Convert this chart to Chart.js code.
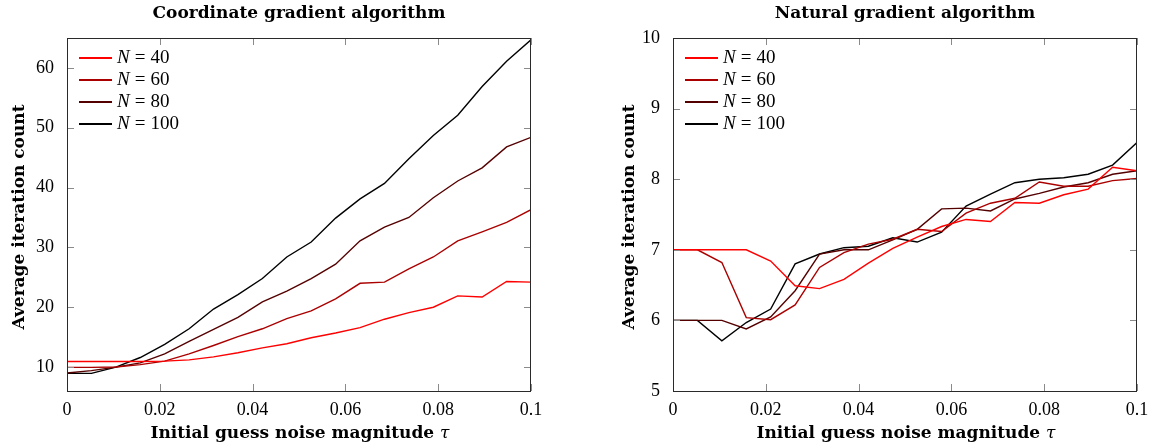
<!DOCTYPE html>
<html>
<head>
<meta charset="utf-8">
<script src="https://cdn.jsdelivr.net/npm/chart.js@4.4.1/dist/chart.umd.min.js"></script>
<style>
  html, body { margin: 0; padding: 0; background: #fff; }
  #wrap { position: relative; width: 1154px; height: 446px; overflow: hidden; }
  canvas { position: absolute; top: 0; }
  .t { position: absolute; white-space: nowrap; color: #000; }
  .title { font-family: "DejaVu Serif", serif; font-weight: bold; font-size: 17px; line-height: 20px; text-align: center; width: 500px; }
  .ylab { font-family: "DejaVu Serif", serif; font-weight: bold; font-size: 17px; line-height: 20px; text-align: center; width: 400px; transform: rotate(-90deg); }
  .leg { position: absolute; font-family: "Liberation Serif", serif; font-size: 19px; line-height: 20px; height: 20px; white-space: nowrap; }
  .leg span.sw { position: absolute; left: 0; top: 10px; width: 33px; height: 2px; }
  .leg span.txt { position: absolute; left: 38px; top: 0; }
  .leg span.eq { margin: 0 5px; }
  i { font-style: italic; }
</style>
</head>
<body>
<div id="wrap">
  <canvas id="c1" width="560" height="446" style="left:0px"></canvas>
  <canvas id="c2" width="534" height="446" style="left:620px"></canvas>

  <div class="t title" style="left:49px; top:2px;">Coordinate gradient algorithm</div>
  <div class="t title" style="left:655px; top:2px;">Natural gradient algorithm</div>

  <div class="t title" style="left:50px; top:422px;">Initial guess noise magnitude <i style="font-weight:normal">τ</i></div>
  <div class="t title" style="left:656px; top:422px;">Initial guess noise magnitude <i style="font-weight:normal">τ</i></div>

  <div class="t ylab" style="left:-182px; top:207px;">Average iteration count</div>
  <div class="t ylab" style="left:428px; top:207px;">Average iteration count</div>

  <div id="leg1"></div>
  <div id="leg2"></div>
</div>
<script>
// ---- data ----
const tau = [0, 0.00526, 0.01053, 0.01579, 0.02105, 0.02632, 0.03158, 0.03684, 0.04211, 0.04737,
             0.05263, 0.05789, 0.06316, 0.06842, 0.07368, 0.07895, 0.08421, 0.08947, 0.09474, 0.1];

const seriesNames = ["40", "60", "80", "100"];
const seriesColors = ["#ff0000", "#aa0000", "#550000", "#000000"];

// Coordinate gradient algorithm
const coordN40  = [10.94, 10.94, 10.94, 10.94, 11.0, 11.2, 11.7, 12.4, 13.2, 13.9, 14.9, 15.7, 16.6, 18.0, 19.1, 20.0, 21.9, 21.7, 24.3, 24.2];
const coordN60  = [9.95, 9.95, 10.0, 10.4, 11.0, 12.2, 13.6, 15.1, 16.4, 18.1, 19.4, 21.4, 24.0, 24.2, 26.4, 28.4, 31.1, 32.6, 34.2, 36.3];
const coordN80  = [9.0, 9.4, 10.0, 10.7, 12.2, 14.3, 16.3, 18.3, 20.9, 22.7, 24.8, 27.2, 31.1, 33.4, 35.0, 38.3, 41.1, 43.3, 46.8, 48.4];
const coordN100 = [8.94, 8.94, 10.0, 11.6, 13.8, 16.4, 19.7, 22.1, 24.8, 28.4, 30.9, 34.9, 38.1, 40.7, 44.8, 48.7, 52.1, 56.9, 61.1, 64.7];

// Natural gradient algorithm
const natN40  = [7.0, 7.0, 7.0, 7.0, 6.84, 6.49, 6.45, 6.58, 6.81, 7.02, 7.18, 7.33, 7.43, 7.40, 7.67, 7.66, 7.78, 7.86, 8.17, 8.12];
const natN60  = [7.0, 7.0, 6.82, 6.04, 6.01, 6.22, 6.75, 6.96, 7.08, 7.15, 7.29, 7.26, 7.52, 7.66, 7.73, 7.96, 7.90, 7.90, 7.98, 8.01];
const natN80  = [6.0, 6.0, 6.0, 5.88, 6.05, 6.42, 6.94, 7.0, 7.0, 7.14, 7.29, 7.58, 7.59, 7.55, 7.72, 7.80, 7.89, 7.95, 8.07, 8.12];
const natN100 = [6.0, 6.0, 5.71, 5.97, 6.16, 6.80, 6.94, 7.03, 7.05, 7.17, 7.11, 7.25, 7.62, 7.79, 7.95, 8.0, 8.02, 8.07, 8.20, 8.52];

// ticks
const xTickValues = [0, 0.02, 0.04, 0.06, 0.08, 0.1];
const xTickLabels = ["0", "0.02", "0.04", "0.06", "0.08", "0.1"];
const yTicksCoord = [10, 20, 30, 40, 50, 60];
const yTicksNat   = [5, 6, 7, 8, 9, 10];

// ---- helpers ----
const tickFont = { family: "Liberation Serif", size: 18 };

const framePlugin = {
  id: 'frame',
  afterDatasetsDraw(chart) {
    const { ctx, chartArea: a, scales: { x, y } } = chart;
    ctx.save();
    ctx.lineWidth = 1;
    ctx.strokeStyle = '#8a8a8a';
    ctx.beginPath();
    const L = 7;
    x.ticks.forEach(t => {
      const px = Math.round(x.getPixelForValue(t.value)) + 0.5;
      ctx.moveTo(px, a.bottom); ctx.lineTo(px, a.bottom - L);
      ctx.moveTo(px, a.top); ctx.lineTo(px, a.top + L);
    });
    y.ticks.forEach(t => {
      const py = Math.round(y.getPixelForValue(t.value)) + 0.5;
      ctx.moveTo(a.left, py); ctx.lineTo(a.left + L, py);
      ctx.moveTo(a.right, py); ctx.lineTo(a.right - L, py);
    });
    ctx.stroke();
    ctx.strokeStyle = '#2a2a2a';
    ctx.strokeRect(Math.round(a.left) + 0.5, Math.round(a.top) + 0.5, Math.round(a.width) - 1, Math.round(a.height));
    ctx.restore();
  }
};

function makeDatasets(arrs) {
  return arrs.map((arr, i) => ({
    label: "N = " + seriesNames[i],
    data: arr.map((v, k) => ({ x: tau[k], y: v })),
    borderColor: seriesColors[i],
    backgroundColor: seriesColors[i],
    borderWidth: 1.4,
    pointRadius: 0,
    tension: 0,
    fill: false
  }));
}

function makeChart(id, arrs, yMin, yMax, yTicks, yWidth, padRight) {
  return new Chart(document.getElementById(id), {
    type: 'line',
    data: { datasets: makeDatasets(arrs) },
    plugins: [framePlugin],
    options: {
      responsive: false,
      animation: false,
      devicePixelRatio: 1,
      layout: { padding: { top: 38, right: padRight, bottom: 25, left: 0 } },
      plugins: { legend: { display: false }, tooltip: { enabled: false }, title: { display: false } },
      scales: {
        x: {
          type: 'linear', min: 0, max: 0.1,
          grid: { display: false }, border: { display: false },
          afterBuildTicks: s => { s.ticks = xTickValues.map(v => ({ value: v })); },
          afterFit: s => { s.height = 30; },
          ticks: {
            font: tickFont, color: '#000', padding: 0, maxRotation: 0, autoSkip: false,
            callback: (v, i) => xTickLabels[i]
          }
        },
        y: {
          type: 'linear', min: yMin, max: yMax,
          grid: { display: false }, border: { display: false },
          afterBuildTicks: s => { s.ticks = yTicks.map(v => ({ value: v })); },
          afterFit: s => { s.width = yWidth; },
          ticks: {
            font: tickFont, color: '#000', padding: 5, autoSkip: false,
            callback: v => String(v)
          }
        }
      }
    }
  });
}

makeChart('c1', [coordN40, coordN60, coordN80, coordN100], 6.0, 65, yTicksCoord, 67, 29);
makeChart('c2', [natN40, natN60, natN80, natN100], 5, 10, yTicksNat, 53, 17);

// legends (HTML, real text)
function makeLegend(id, left) {
  const host = document.getElementById(id);
  const rowsY = [57, 79, 101, 123];
  seriesNames.forEach((n, i) => {
    const d = document.createElement('div');
    d.className = 'leg';
    d.style.left = left + 'px';
    d.style.top = (rowsY[i] - 10) + 'px';
    d.innerHTML = '<span class="sw" style="background:' + seriesColors[i] + '"></span>' +
                  '<span class="txt"><i>N</i><span class="eq">=</span>' + n + '</span>';
    host.appendChild(d);
  });
}
makeLegend('leg1', 79);
makeLegend('leg2', 685);
</script>
</body>
</html>
